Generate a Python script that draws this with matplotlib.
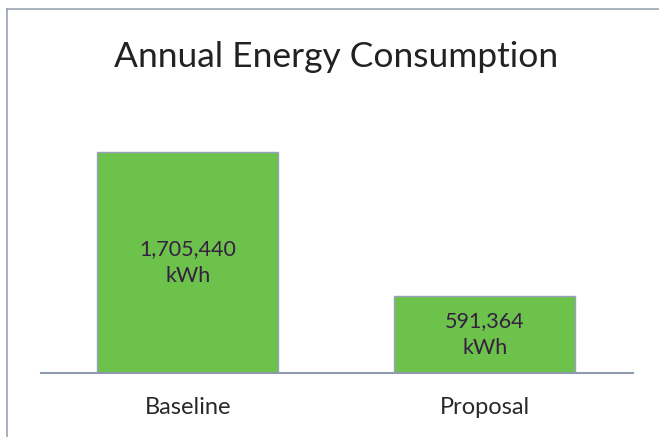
import matplotlib.pyplot as plt
from matplotlib.lines import Line2D

categories = ["Baseline", "Proposal"]
consumption = [1705440, 591364]
labels = ["1,705,440\nkWh", "591,364\nkWh"]

W, H = 659, 437
fig = plt.figure(figsize=(W / 100, H / 100), dpi=100)

# frame of the scanned page: only left and top edges are visible
fx, fy = 7 / W, 1 - 9 / H
fig.add_artist(Line2D([fx, fx], [0, fy], transform=fig.transFigure,
                      color="#9aa4b0", linewidth=1.2))
fig.add_artist(Line2D([fx, 1], [fy, fy], transform=fig.transFigure,
                      color="#9aa4b0", linewidth=1.2))

ax = fig.add_axes([41 / W, (H - 373) / H, (633 - 41) / W, (373 - 100) / H])
ymax = consumption[0] * (373 - 100) / (373 - 152)

x = list(range(len(categories)))
ax.bar(x, consumption, width=0.61, color="#6cc24b",
       edgecolor="#98a2c0", linewidth=1.0)
for xi, val, lab in zip(x, consumption, labels):
    ax.text(xi, val / 2, lab, ha="center", va="center", fontsize=15.5,
            color="#35203f", family="Lato", linespacing=1.4)

ax.set_xlim(-0.495, 1.5)
ax.set_ylim(0, ymax)
for s in ["top", "right", "left"]:
    ax.spines[s].set_visible(False)
ax.spines["bottom"].set_color("#8e9aae")
ax.spines["bottom"].set_linewidth(1.5)
ax.set_yticks([])
ax.set_xticks(x)
ax.set_xticklabels(categories, fontsize=17, family="Lato", color="#2a2a2a")
ax.tick_params(axis="x", length=0, pad=17)

fig.text(336 / W, 1 - 57 / H, "Annual Energy Consumption", ha="center",
         va="center", fontsize=25.5, family="Lato", color="#222222")

fig.savefig("out.png", dpi=100)
